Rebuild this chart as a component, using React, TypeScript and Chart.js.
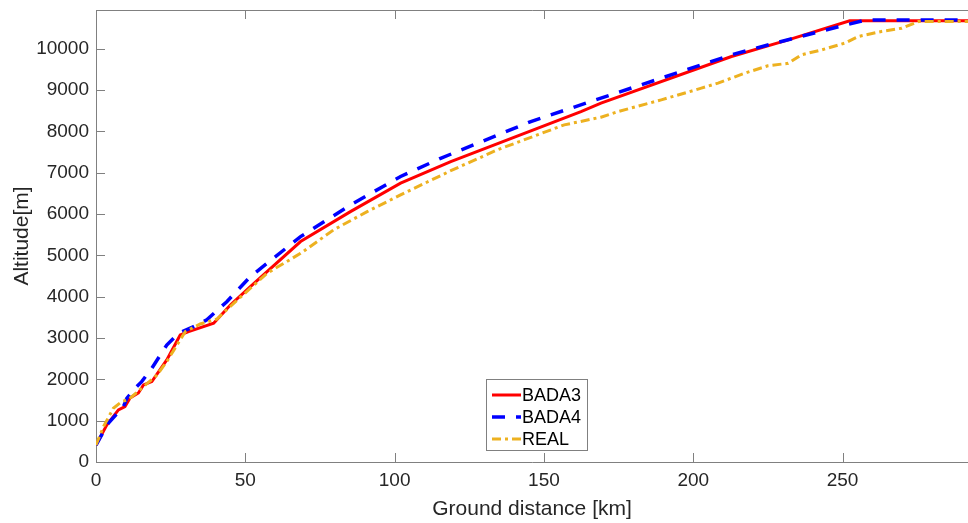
import React, { useEffect, useRef } from "react";
import { Chart, registerables } from "chart.js";

Chart.register(...registerables);

const bada3Km = [0, 3.6, 7.5, 9.7, 11.4, 14.2, 15.9, 18.7, 23.7, 28.2, 31, 39.4, 45, 51.7, 68.5, 85.2, 102, 118.8, 162.4, 169.1, 212.8, 231.8, 252.4, 292];
const bada3Alt = [410, 896, 1260, 1340, 1550, 1670, 1865, 1945, 2470, 3075, 3155, 3358, 3800, 4245, 5335, 6060, 6750, 7271, 8482, 8685, 9815, 10218, 10680, 10680];

const bada4Km = [0, 4.1, 9.2, 10.3, 13.1, 15.3, 18.7, 23.7, 27.6, 32.7, 37.1, 43.8, 51.7, 68.5, 85.2, 102, 115.4, 145.6, 171.4, 212.8, 227.3, 250, 258, 292];
const bada4Alt = [410, 937, 1340, 1540, 1785, 1945, 2270, 2830, 3115, 3275, 3440, 3880, 4487, 5455, 6220, 6910, 7350, 8240, 8862, 9855, 10138, 10560, 10700, 10700];

const realKm = [0, 2.5, 5.8, 8.6, 10.3, 12, 15.9, 20.4, 23.7, 27.1, 29.9, 34.9, 40.5, 46.1, 57.3, 68.5, 79.6, 90.8, 102, 118.8, 134.4, 156.8, 169.1, 174.7, 189.3, 202.7, 208.3, 217.2, 225, 231.8, 236.2, 243, 250.8, 255.3, 263, 269.8, 275.4, 292];
const realAlt = [410, 855, 1300, 1460, 1500, 1580, 1825, 2105, 2430, 2830, 3155, 3340, 3460, 3840, 4570, 5050, 5620, 6060, 6465, 7050, 7555, 8160, 8346, 8480, 8765, 9048, 9170, 9410, 9590, 9650, 9855, 9975, 10140, 10300, 10420, 10500, 10660, 10660];

const seriesLabels = ["BADA3", "BADA4", "REAL"];
const xTitle = "Ground distance [km]";
const yTitle = "Altitude[m]";
const xMin = 0;
const xMax = 292;
const xStep = 50;
const yMin = 0;
const yMax = 10940;
const yStep = 1000;

const FONT = "'Liberation Sans', Arial, Helvetica, sans-serif";
const AXIS_COLOR = "#808080";
const TEXT_COLOR = "#262626";

const toPoints = (xs: number[], ys: number[]) => xs.map((x, i) => ({ x, y: ys[i] }));

const stepTicks = (min: number, max: number, step: number) => {
  const out: { value: number }[] = [];
  for (let v = min; v <= max + 1e-9; v += step) out.push({ value: v });
  return out;
};

const boxPlugin = {
  id: "matlabBox",
  beforeDatasetsDraw(chart: any) {
    const { ctx, chartArea } = chart;
    const { left, right, top, bottom } = chartArea;
    const xs = chart.scales.x;
    const ys = chart.scales.y;
    const tl = 9;
    ctx.save();
    ctx.strokeStyle = AXIS_COLOR;
    ctx.lineWidth = 1;
    ctx.beginPath();
    ctx.moveTo(left + 0.5, top + 0.5);
    ctx.lineTo(left + 0.5, bottom + 0.5);
    ctx.lineTo(right, bottom + 0.5);
    ctx.moveTo(left + 0.5, top + 0.5);
    ctx.lineTo(right, top + 0.5);
    xs.ticks.forEach((t: any) => {
      const px = Math.round(xs.getPixelForValue(t.value)) + 0.5;
      ctx.moveTo(px, bottom);
      ctx.lineTo(px, bottom - tl);
      ctx.moveTo(px, top);
      ctx.lineTo(px, top + tl);
    });
    ys.ticks.forEach((t: any) => {
      const py = Math.round(ys.getPixelForValue(t.value)) + 0.5;
      ctx.moveTo(left, py);
      ctx.lineTo(left + tl, py);
    });
    ctx.stroke();
    ctx.restore();
  },
  afterDatasetsDraw(chart: any) {
    const { ctx } = chart;
    const bx = 486;
    const by = 379;
    const bw = 101;
    const bh = 71;
    ctx.save();
    ctx.fillStyle = "#ffffff";
    ctx.fillRect(bx, by, bw, bh);
    ctx.strokeStyle = AXIS_COLOR;
    ctx.lineWidth = 1;
    ctx.strokeRect(bx + 0.5, by + 0.5, bw, bh);
    const rows = [395, 417, 439];
    [0, 1, 2].forEach((di, i) => {
      const ds = chart.data.datasets[di];
      const y = rows[i];
      ctx.strokeStyle = ds.borderColor;
      ctx.lineWidth = ds.borderWidth;
      ctx.setLineDash(ds.borderDash || []);
      ctx.beginPath();
      ctx.moveTo(492, y);
      ctx.lineTo(521, y);
      ctx.stroke();
      ctx.setLineDash([]);
      ctx.fillStyle = "#000000";
      ctx.font = `18px ${FONT}`;
      ctx.textBaseline = "middle";
      ctx.textAlign = "left";
      ctx.fillText(ds.label, 522, y + 1);
    });
    ctx.restore();
  },
};

export default function App() {
  const ref = useRef<HTMLCanvasElement | null>(null);

  useEffect(() => {
    if (!ref.current) return;
    const chart = new Chart(ref.current, {
      type: "line",
      data: {
        datasets: [
          {
            label: seriesLabels[0],
            data: toPoints(bada3Km, bada3Alt),
            borderColor: "#ff0000",
            borderWidth: 3,
            pointRadius: 0,
            tension: 0,
            order: 2,
          },
          {
            label: seriesLabels[1],
            data: toPoints(bada4Km, bada4Alt),
            borderColor: "#0000ff",
            borderWidth: 3.5,
            borderDash: [13, 11],
            pointRadius: 0,
            tension: 0,
            order: 1,
          },
          {
            label: seriesLabels[2],
            data: toPoints(realKm, realAlt),
            borderColor: "#EDB120",
            borderWidth: 3,
            borderDash: [9, 4, 3, 4],
            pointRadius: 0,
            tension: 0,
            order: 0,
          },
        ],
      },
      options: {
        responsive: false,
        animation: false,
        events: [],
        layout: { padding: { top: 10, right: 0, left: 0, bottom: 0 } },
        plugins: {
          legend: { display: false },
          tooltip: { enabled: false },
        },
        scales: {
          x: {
            type: "linear",
            min: xMin,
            max: xMax,
            grid: { display: false, drawTicks: false },
            border: { display: false },
            afterBuildTicks: (s: any) => {
              s.ticks = stepTicks(xMin, xMax, xStep);
            },
            ticks: {
              maxRotation: 0,
              autoSkip: false,
              padding: 7,
              color: TEXT_COLOR,
              font: { family: FONT, size: 19 },
              callback: (v: any) => String(v),
            },
            title: {
              display: true,
              text: xTitle,
              color: TEXT_COLOR,
              font: { family: FONT, size: 21 },
              padding: { top: 0, bottom: 1 },
            },
            afterFit: (s: any) => {
              s.height = 61;
              s.paddingLeft = 0;
              s.paddingRight = 0;
            },
          },
          y: {
            type: "linear",
            min: yMin,
            max: yMax,
            grid: { display: false, drawTicks: false },
            border: { display: false },
            afterBuildTicks: (s: any) => {
              s.ticks = stepTicks(yMin, yMax, yStep);
            },
            ticks: {
              autoSkip: false,
              padding: 7,
              color: TEXT_COLOR,
              font: { family: FONT, size: 19 },
              callback: (v: any) => String(v),
            },
            title: {
              display: true,
              text: yTitle,
              color: TEXT_COLOR,
              font: { family: FONT, size: 21 },
              padding: { top: 10, bottom: 0 },
            },
            afterFit: (s: any) => {
              s.width = 96;
              s.paddingTop = 0;
              s.paddingBottom = 0;
            },
          },
        },
      },
      plugins: [boxPlugin],
    } as any);
    return () => chart.destroy();
  }, []);

  return (
    <div style={{ position: "fixed", left: 0, top: 0, width: 968, height: 523, background: "#fff" }}>
      <canvas ref={ref} width={968} height={523} style={{ display: "block", width: 968, height: 523 }} />
    </div>
  );
}
